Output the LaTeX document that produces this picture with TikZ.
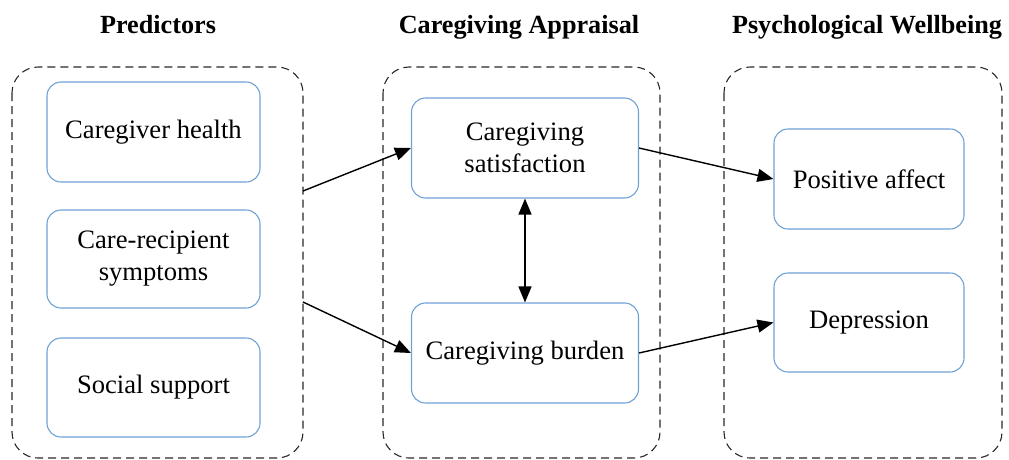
\documentclass[tikz,border=0pt]{standalone}
\usepackage{fontspec}
\setmainfont{Liberation Serif}
\usetikzlibrary{arrows.meta}
\definecolor{boxblue}{RGB}{110,162,215}
\definecolor{grpgray}{RGB}{40,40,40}
\tikzset{
  grp/.style={draw=grpgray, line width=1.1pt, dash pattern=on 8pt off 5pt, rounded corners=26pt},
  inbox/.style={draw=boxblue, line width=1.1pt, rounded corners=14pt, align=center,
    font=\fontsize{26.6}{32}\selectfont},
  head/.style={font=\fontsize{26.2}{30}\selectfont\bfseries},
  conn/.style={line width=1.4pt, -{Triangle[length=16pt,width=13pt]}},
}
\begin{document}
\begin{tikzpicture}[x=1pt,y=-1pt]
\useasboundingbox (0,0) rectangle (1009,459);
% group boxes
\draw[grp] (12,67) rectangle (303,458);
\draw[grp] (383,67) rectangle (660,458);
\draw[grp] (724,67) rectangle (1002,458);
% headings
\node[head] (h1) at (158,25) {Predictors};
\node[head] (h2) at (519,27) {Caregiving Appraisal};
\node[head] (h3) at (867,27) {Psychological Wellbeing};
% predictor boxes
\node[inbox, minimum width=213pt, minimum height=100pt] (ch) at (153.5,132) {Caregiver health};
\node[inbox, minimum width=213pt, minimum height=98pt] (cr) at (153.5,259) {Care-recipient\\symptoms};
\node[inbox, minimum width=213pt, minimum height=99pt] (ss) at (153.5,387.5) {Social support};
% appraisal boxes
\node[inbox, minimum width=227pt, minimum height=100pt] (sat) at (525,148) {Caregiving\\satisfaction};
\node[inbox, minimum width=227pt, minimum height=100pt] (bur) at (525,353) {Caregiving burden};
% wellbeing boxes
\node[inbox, minimum width=190pt, minimum height=100pt] (pa) at (869,179) {Positive affect};
\node[inbox, minimum width=190pt, minimum height=99pt] (dep) at (869,322.5) {Depression};
% connector start points on group border
\coordinate (g1a) at (303,191);
\coordinate (g1b) at (303,302);
\draw[conn] (g1a) -- (sat.west);
\draw[conn] (g1b) -- (bur.west);
\draw[line width=1.4pt, {Triangle[length=16pt,width=13pt]}-{Triangle[length=16pt,width=13pt]}] (sat.south) -- (bur.north);
\draw[conn] (sat.east) -- (pa.west);
\draw[conn] (bur.east) -- (dep.west);
\end{tikzpicture}
\end{document}
